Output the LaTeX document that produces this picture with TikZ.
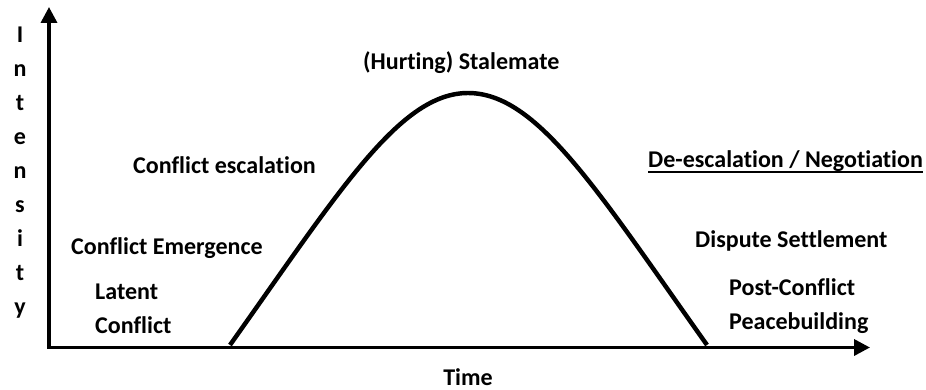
\documentclass[tikz,border=0pt]{standalone}
\usepackage{fontspec}
\setmainfont{Carlito}[Ligatures=NoCommon]
\usetikzlibrary{arrows.meta}

\tikzset{
    lbl/.style={font=\fontsize{20.5}{24}\selectfont\bfseries, inner sep=0pt, anchor=base west},
    axis/.style={line width=3pt, {Triangle[length=13.5pt,width=13.5pt]}-{Triangle[length=13.5pt,width=13.5pt]}},
}

\begin{document}
\begin{tikzpicture}[x=0.03cm, y=-0.03cm]
    \useasboundingbox (0,0) rectangle (926,389);

    % Axes
    \coordinate (origin) at (49,347.5);
    \coordinate (ytip) at (49,7);
    \coordinate (xtip) at (870,347.5);
    \draw[axis] (ytip) -- (origin) -- (xtip);

    % Curve
    \coordinate (rise) at (230,345);
    \coordinate (peak) at (468,93);
    \coordinate (fall) at (707,345);
    \draw[line width=3.8pt] (rise) .. controls (340,190) and (400,93) .. (peak)
        .. controls (537,93) and (597,190) .. (fall);

    % Axis labels
    \foreach \l [count=\i] in {I,n,t,e,n,s,i,t,y}
        \node[lbl, anchor=base] (int\i) at (20, 42+34*\i-34) {\l};
    \node[lbl, anchor=base] (time) at (468,385) {Time};

    % Stages
    \node[lbl] (stalemate) at (363,69) {(Hurting) Stalemate};
    \node[lbl] (escalation) at (133,173) {Conflict escalation};
    \node[lbl] (emergence) at (71,254) {Conflict Emergence};
    \node[lbl] (latent) at (95,299) {Latent};
    \node[lbl] (latent2) at (95,333) {Conflict};
    \node[lbl] (negotiation) at (648,167) {De-escalation / Negotiation};
    \draw[line width=1.7pt] ([yshift=-4.3pt]negotiation.base west) -- ([yshift=-4.3pt]negotiation.base east);
    \node[lbl] (settlement) at (695,247) {Dispute Settlement};
    \node[lbl] (post) at (729,295) {Post-Conflict};
    \node[lbl] (peace) at (729,329) {Peacebuilding};
\end{tikzpicture}
\end{document}
